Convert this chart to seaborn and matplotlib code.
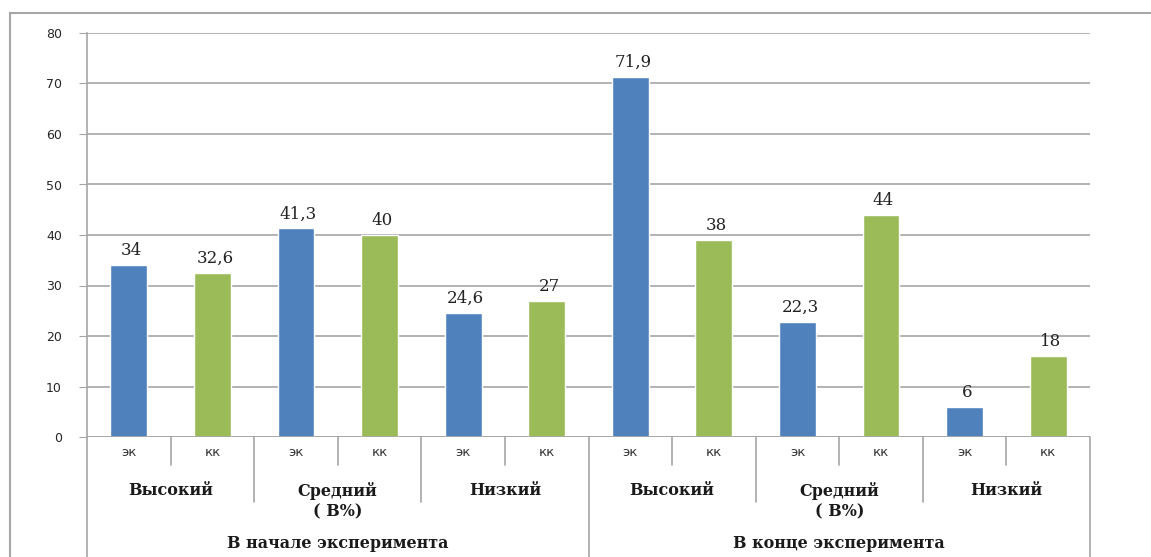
import pandas as pd
import matplotlib.pyplot as plt
import matplotlib.transforms as mtransforms
from matplotlib.patches import Rectangle
import seaborn as sns

# Data
phases = ['В начале эксперимента', 'В конце эксперимента']
levels = ['Высокий', 'Средний\n( В%)', 'Низкий']
groups = ['эк', 'кк']
heights = [34, 32.5, 41.3, 40, 24.5, 27, 71.3, 39, 22.7, 44, 6, 16]
labels = ['34', '32,6', '41,3', '40', '24,6', '27', '71,9', '38', '22,3', '44', '6', '18']
colors = {'эк': '#4F81BD', 'кк': '#9BBB59'}

rows = []
for p in phases:
    for lv in levels:
        for g in groups:
            rows.append({'slot': f'{p}|{lv}|{g}', 'group': g})
df = pd.DataFrame(rows)
df['value'] = heights
df['label'] = labels

sns.set_style('white')
fig = plt.figure(figsize=(11.51, 5.57), dpi=100)
ax = fig.add_axes([87 / 1151, 120 / 557, 1003 / 1151, 404 / 557])

sns.barplot(data=df, x='slot', y='value', hue='group', palette=colors,
            dodge=False, width=0.44, ax=ax, legend=False, saturation=1)

grid_c = '#A6A6A6'
ax.set_ylim(0, 80)
ax.set_xlim(-0.5, len(df) - 0.5)
ax.set_yticks(range(0, 81, 10))
ax.yaxis.grid(True, color=grid_c, linewidth=1.2)
ax.set_axisbelow(True)
for s in ['top', 'right', 'bottom']:
    ax.spines[s].set_visible(False)
ax.spines['left'].set_color(grid_c)
ax.spines['left'].set_linewidth(1.2)
ax.tick_params(axis='y', length=6, color=grid_c, labelsize=9, pad=12, left=True)
ax.tick_params(axis='x', bottom=False, labelbottom=False)
ax.set_xlabel('')
ax.set_ylabel('')
ax.axhline(0, color=grid_c, linewidth=1.2)

# value labels, placed by category position
for i, row in df.iterrows():
    ax.text(i + 0.03, row['value'] + 1.2, row['label'],
            ha='center', va='bottom', fontsize=12, family='DejaVu Serif',
            color='#222222')

# multi-level category axis
trans = mtransforms.blended_transform_factory(ax.transData, ax.transAxes)
px = 1 / 404  # one pixel in axes fraction (vertical)
serif_bold = dict(family='DejaVu Serif', fontweight='bold', fontsize=11.5,
                  color='#1a1a1a', ha='center', transform=trans)

n = len(df)
for i in range(n + 1):
    x = i - 0.5
    if i % 6 == 0:
        y_end = -120 * px
    elif i % 2 == 0:
        y_end = -65 * px
    else:
        y_end = -28 * px
    ax.plot([x, x], [0, y_end], color=grid_c, linewidth=1.2,
            transform=trans, clip_on=False)

for i, g in enumerate(df['group']):
    ax.text(i, -16 * px, g, ha='center', va='center', fontsize=9.5,
            color='#333333', transform=trans)

for pi, p in enumerate(phases):
    for li, lv in enumerate(levels):
        xc = pi * 6 + li * 2 + 0.5
        ax.text(xc, -45 * px, lv, va='top', linespacing=1.25, **serif_bold)
    ax.text(pi * 6 + 2.5, -106 * px, p, va='center', **serif_bold)

# outer chart frame
fig.patches.append(Rectangle((10 / 1151, -0.05), 1.2, (557 - 13) / 557 + 0.05,
                             transform=fig.transFigure, fill=False,
                             edgecolor=grid_c, linewidth=1.5))

fig.savefig('out.png', dpi=100)
